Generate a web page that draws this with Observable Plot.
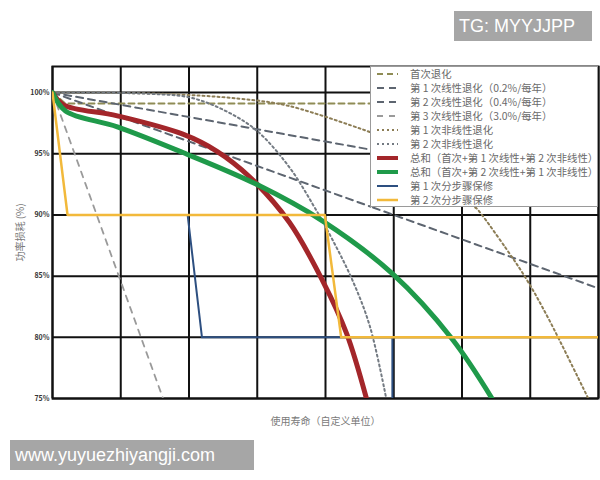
<!DOCTYPE html>
<html>
<head>
<meta charset="utf-8">
<script src="https://cdn.jsdelivr.net/npm/d3@7"></script>
<script src="https://cdn.jsdelivr.net/npm/@observablehq/plot@0.6"></script>
<style>
  html, body { margin: 0; padding: 0; background: #fff; }
  #wrap { position: relative; width: 600px; height: 480px; overflow: hidden; font-family: "Noto Sans CJK SC", "Noto Sans", sans-serif; }
  #chart { position: absolute; left: 0; top: 0; z-index: 0; }
  #chart svg { display: block; }
  .wm { position: absolute; z-index: 3; background: #a6a6a6; color: #fff; font-family: "Liberation Sans", Arial, sans-serif; font-size: 18px; line-height: 30px; padding-left: 5px; box-sizing: border-box; }
</style>
</head>
<body>
<div id="wrap">
  <div id="chart"></div>
  <div class="wm" style="left:454px;top:11px;width:138px;height:30px;">TG: MYYJJPP</div>
  <div class="wm" style="left:10px;top:440px;width:244px;height:30px;">www.yuyuezhiyangji.com</div>
</div>
<script>
// ---- data (x = service life in custom units, y = power %) ----
const xGrid = [0, 1, 2, 3, 4, 5, 6, 7, 8];
const yTicks = [75, 80, 85, 90, 95, 100];

const initialX = [0, 0.19, 8];
const initialY = [100, 99.1, 99.1];

const linear1X = [0, 8];
const linear1Y = [100, 92];

const linear2X = [0, 8];
const linear2Y = [100, 84];

const linear3X = [0, 1.62];
const linear3Y = [100, 75];

const nonlin1X = [0, 1.58, 2.74, 3.47, 4.69, 6.22, 6.64, 6.95, 7.27, 7.85];
const nonlin1Y = [100, 99.9, 99.5, 98.9, 96.7, 90.5, 87.3, 84.7, 81.5, 75];

const nonlin2X = [0, 1.43, 2.01, 2.5, 2.99, 3.47, 3.81, 4.1, 4.4, 4.65, 4.89];
const nonlin2Y = [100, 99.9, 99.6, 98.6, 96.9, 93.9, 90.9, 88.0, 84.6, 80.9, 75];

const sumAX = [0, 0.16, 0.95, 1.91, 2.41, 2.89, 3.47, 3.96, 4.31, 4.6];
const sumAY = [100, 99.0, 98.1, 96.6, 95.2, 93.1, 89.4, 84.6, 80.3, 75];

const sumBX = [0, 0.19, 0.95, 1.91, 2.99, 3.96, 4.98, 5.85, 6.44];
const sumBY = [100, 98.5, 97.2, 95.1, 92.5, 89.5, 85.2, 79.9, 75];

const warranty1X = [1.98, 2.19, 4.98, 4.98];
const warranty1Y = [90, 80, 80, 75];

const warranty2X = [0, 0.22, 3.99, 4.23, 8];
const warranty2Y = [100, 90, 90, 80, 80];

const legendLabels = [
  "首次退化",
  "第 1 次线性退化（0.2%/每年）",
  "第 2 次线性退化（0.4%/每年）",
  "第 3 次线性退化（3.0%/每年）",
  "第 1 次非线性退化",
  "第 2 次非线性退化",
  "总和（首次+第 1 次线性+第 2 次非线性）",
  "总和（首次+第 2 次线性+第 1 次非线性）",
  "第 1 次分步骤保修",
  "第 2 次分步骤保修"
];

// ---- styles ----
const styles = [
  {stroke: "#8f8c55", strokeWidth: 2, dash: "6,4"},
  {stroke: "#5d6570", strokeWidth: 2, dash: "7,5"},
  {stroke: "#5d6570", strokeWidth: 2, dash: "7,5"},
  {stroke: "#9a9a9a", strokeWidth: 1.8, dash: "6,6"},
  {stroke: "#8c7d55", strokeWidth: 2, dash: "2,3"},
  {stroke: "#737a82", strokeWidth: 2, dash: "2,3"},
  {stroke: "#a3262a", strokeWidth: 5, dash: null},
  {stroke: "#1f9a4a", strokeWidth: 5, dash: null},
  {stroke: "#2d4f80", strokeWidth: 2, dash: null},
  {stroke: "#f2b93b", strokeWidth: 2.5, dash: null}
];

const series = [
  [initialX, initialY], [linear1X, linear1Y], [linear2X, linear2Y], [linear3X, linear3Y],
  [nonlin1X, nonlin1Y], [nonlin2X, nonlin2Y], [sumAX, sumAY], [sumBX, sumBY],
  [warranty1X, warranty1Y], [warranty2X, warranty2Y]
];
const curves = ["linear","linear","linear","linear","catmull-rom","catmull-rom","catmull-rom","catmull-rom","linear","linear"];
const order = [0, 1, 2, 3, 4, 5, 8, 6, 7, 9];

// ---- layout ----
const M = {left: 52, right: 2, top: 66, bottom: 82};
const W = 600, H = 480;
const xDomain = [0, 8], yDomain = [75, 102.13];
const LX = 370, LY = 66, LW = 228, LH = 141, rowH = 14;

// legend box corner expressed in data units (the box reaches the top-right corner of the frame)
const legX = xDomain[0] + (LX - M.left) / (W - M.left - M.right) * (xDomain[1] - xDomain[0]);
const legY = yDomain[0] + ((H - M.bottom) - (LY + LH)) / (H - M.top - M.bottom) * (yDomain[1] - yDomain[0]);

// hide the parts of a polyline that lie behind the legend box (x >= legX and y >= legY)
function outsideLegend(xs, ys) {
  const out = [];
  let seg = 0, open = false;
  const inside = (x, y) => x >= legX && y >= legY;
  const push = (x, y) => { out.push({x, y, seg}); open = true; };
  const close = () => { if (open) { seg++; open = false; } };
  for (let k = 0; k < xs.length - 1; k++) {
    const x0 = xs[k], y0 = ys[k], x1 = xs[k + 1], y1 = ys[k + 1];
    const dx = x1 - x0, dy = y1 - y0;
    let tIn = 0, tOut = 1;
    if (dx === 0) { if (x0 < legX) tIn = 2; }
    else if (dx > 0) tIn = Math.max(tIn, (legX - x0) / dx);
    else tOut = Math.min(tOut, (legX - x0) / dx);
    if (dy === 0) { if (y0 < legY) tIn = 2; }
    else if (dy > 0) tIn = Math.max(tIn, (legY - y0) / dy);
    else tOut = Math.min(tOut, (legY - y0) / dy);
    const at = t => [x0 + dx * t, y0 + dy * t];
    if (k === 0 && !inside(x0, y0)) push(x0, y0);
    if (tIn >= tOut || tIn > 1 || tOut < 0) {
      push(x1, y1);
    } else {
      if (tIn > 0) { const p = at(tIn); push(p[0], p[1]); }
      close();
      if (tOut < 1) { const p = at(tOut); push(p[0], p[1]); push(x1, y1); }
    }
  }
  return out;
}

const lineMarks = order.map(i => {
  const [xs, ys] = series[i];
  const pts = outsideLegend(xs, ys);
  const s = styles[i];
  return Plot.line(pts, {
    x: "x", y: "y", z: "seg", stroke: s.stroke, strokeWidth: s.strokeWidth,
    strokeDasharray: s.dash || undefined, curve: curves[i], clip: true
  });
});

const chart = Plot.plot({
  width: W,
  height: H,
  marginLeft: M.left,
  marginRight: M.right,
  marginTop: M.top,
  marginBottom: M.bottom,
  x: {domain: xDomain},
  y: {domain: yDomain},
  style: {fontFamily: "'Noto Sans CJK SC', sans-serif", background: "transparent"},
  marks: [
    Plot.gridX(xGrid, {stroke: "#111", strokeOpacity: 1, strokeWidth: 2}),
    Plot.gridY(yTicks, {stroke: "#111", strokeOpacity: 1, strokeWidth: 2}),
    Plot.frame({stroke: "#111", strokeWidth: 2}),
    ...lineMarks,
    Plot.axisY(yTicks, {tickFormat: d => d + "%", tickSize: 0, tickPadding: 3, fontSize: 7, fontWeight: "bold", fill: "#333", label: null}),
    Plot.axisY([], {label: "功率损耗 (%)", labelAnchor: "center", labelArrow: "none", labelOffset: 36, fontSize: 10, fill: "#7a7a7a", tickSize: 0}),
    Plot.axisX([], {label: "使用寿命（自定义单位）", labelAnchor: "center", labelArrow: "none", labelOffset: 26, fontSize: 10, fill: "#7a7a7a", tickSize: 0})
  ]
});
document.getElementById("chart").appendChild(chart);

// ---- legend drawn inside the plot's SVG ----
const svg = d3.select(chart);
const lg = svg.append("g")
  .attr("transform", `translate(${LX},${LY})`)
  .attr("text-anchor", "start")
  .style("font-family", "'Noto Sans CJK SC', sans-serif");
lg.append("rect").attr("x", 0.5).attr("y", 0.5).attr("width", LW - 1).attr("height", LH - 1)
  .style("fill", "#ffffff").attr("stroke", "#9a9a9a").attr("stroke-width", 1);
const rows = lg.selectAll("g.row").data(legendLabels).join("g")
  .attr("class", "row")
  .attr("transform", (d, i) => `translate(0,${8 + i * rowH})`);
rows.append("path")
  .attr("d", "M7,0H28")
  .attr("fill", "none")
  .attr("stroke", (d, i) => styles[i].stroke)
  .attr("stroke-width", (d, i) => Math.min(styles[i].strokeWidth, 4))
  .attr("stroke-dasharray", (d, i) => styles[i].dash || null);
rows.append("text")
  .attr("x", 40).attr("y", 0).attr("dy", "0.35em")
  .attr("text-anchor", "start")
  .attr("font-size", 10.4).attr("fill", "#6a6a6a")
  .text(d => d);
</script>
</body>
</html>
